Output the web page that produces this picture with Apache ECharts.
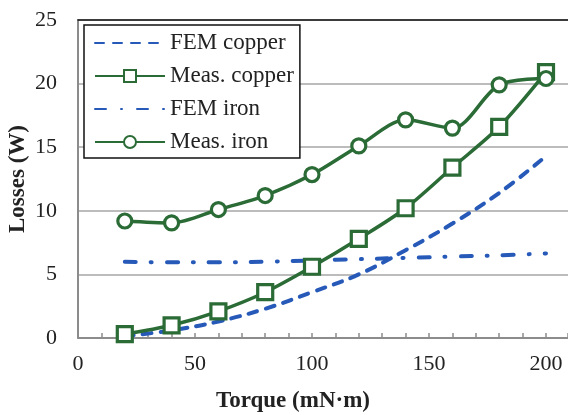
<!DOCTYPE html>
<html>
<head>
<meta charset="utf-8">
<script src="https://cdn.jsdelivr.net/npm/echarts@6/dist/echarts.min.js"></script>
<style>
    html, body { margin: 0; padding: 0; background: #fff; }
    #chart { width: 568px; height: 415px; }
</style>
</head>
<body>
<div id="chart"></div>
<script>
// torque points (mN·m)
const torque = [20, 40, 60, 80, 100, 120, 140, 160, 180, 200]
// losses (W)
const femCopper = [0.15, 0.6, 1.3, 2.3, 3.6, 5.0, 6.9, 9.0, 11.4, 14.3]
const measCopper = [0.3, 1.0, 2.1, 3.6, 5.6, 7.8, 10.2, 13.4, 16.6, 20.9]
const femIron = [6.0, 5.95, 5.95, 6.0, 6.1, 6.2, 6.3, 6.4, 6.5, 6.65]
const measIron = [9.2, 9.05, 10.1, 11.2, 12.85, 15.1, 17.15, 16.5, 19.9, 20.4]

const GREEN = '#2a6b36'
const BLUE = '#2659b8'
const FONT = '"Liberation Serif", "DejaVu Serif", serif'

const pairs = vals => torque.map((t, i) => [t, vals[i]])

const chart = echarts.init(document.getElementById('chart'), null, { renderer: 'canvas' })

// FEM curves have no markers: keep the legend symbol invisible
const noMarker = { color: 'rgba(0,0,0,0)', borderWidth: 0 }

const option = {
    animation: false,
    backgroundColor: '#fff',
    textStyle: { fontFamily: FONT },
    grid: { left: 78, right: 0, top: 20, bottom: 77, containLabel: false, outerBoundsMode: 'none' },
    legend: {
        orient: 'vertical',
        left: 84,
        top: 25,
        padding: [6, 6, 4, 10],
        itemGap: 9,
        itemWidth: 70,
        itemHeight: 15,
        borderColor: '#111',
        borderWidth: 1.5,
        backgroundColor: '#fff',
        textStyle: { fontFamily: FONT, fontSize: 23, color: '#222', lineHeight: 24 },
        data: ['FEM copper', 'Meas. copper', 'FEM iron', 'Meas. iron']
    },
    xAxis: [{
        type: 'value',
        min: 0,
        max: 209.4,
        interval: 10,
        axisLine: { lineStyle: { color: '#8c8c8c', width: 2 } },
        axisTick: { show: true, inside: true, length: 5, lineStyle: { color: '#8c8c8c', width: 1.5 } },
        axisLabel: {
            margin: 15,
            fontFamily: FONT,
            fontSize: 22,
            color: '#222',
            formatter: v => (v % 50 === 0 ? String(v) : '')
        },
        splitLine: { show: false },
        name: 'Torque (mN·m)',
        nameLocation: 'middle',
        nameGap: 52,
        nameMoveOverlap: false,
        nameTextStyle: { fontFamily: FONT, fontSize: 23, fontWeight: 'bold', color: '#222', padding: [0, 60, 0, 0] }
    }, {
        type: 'value',
        position: 'top',
        min: 0,
        max: 209.4,
        axisLine: { show: true, lineStyle: { color: '#111', width: 1.5 } },
        axisTick: { show: false },
        axisLabel: { show: false },
        splitLine: { show: false }
    }],
    yAxis: {
        type: 'value',
        min: 0,
        max: 25,
        interval: 5,
        axisLine: { show: true, lineStyle: { color: '#8c8c8c', width: 2 } },
        axisTick: { show: false },
        axisLabel: { margin: 21, fontFamily: FONT, fontSize: 22, color: '#222' },
        splitLine: { lineStyle: { color: '#a6a6a6', width: 1.5 } },
        name: 'Losses (W)',
        nameLocation: 'middle',
        nameGap: 48,
        nameMoveOverlap: false,
        nameRotate: 90,
        nameTextStyle: { fontFamily: FONT, fontSize: 23, fontWeight: 'bold', color: '#222' }
    },
    series: [{
        name: 'FEM copper',
        type: 'line',
        data: pairs(femCopper),
        smooth: 0.4,
        symbol: 'circle',
        showSymbol: false,
        lineStyle: { color: BLUE, width: 4, type: [9, 9], cap: 'round' },
        itemStyle: noMarker,
        z: 3
    }, {
        name: 'Meas. copper',
        type: 'line',
        data: pairs(measCopper),
        smooth: 0.3,
        symbol: 'rect',
        symbolSize: 15,
        lineStyle: { color: GREEN, width: 3.5 },
        itemStyle: { color: '#fff', borderColor: GREEN, borderWidth: 3.2 },
        z: 4
    }, {
        name: 'FEM iron',
        type: 'line',
        data: pairs(femIron),
        smooth: 0.4,
        symbol: 'circle',
        showSymbol: false,
        lineStyle: { color: BLUE, width: 4, type: [11, 15, 1, 15], cap: 'round' },
        itemStyle: noMarker,
        z: 3
    }, {
        name: 'Meas. iron',
        type: 'line',
        data: pairs(measIron),
        smooth: 0.3,
        symbol: 'circle',
        symbolSize: 14,
        lineStyle: { color: GREEN, width: 3.5 },
        itemStyle: { color: '#fff', borderColor: GREEN, borderWidth: 3.2 },
        z: 4
    }]
}

chart.setOption(option)
</script>
</body>
</html>
